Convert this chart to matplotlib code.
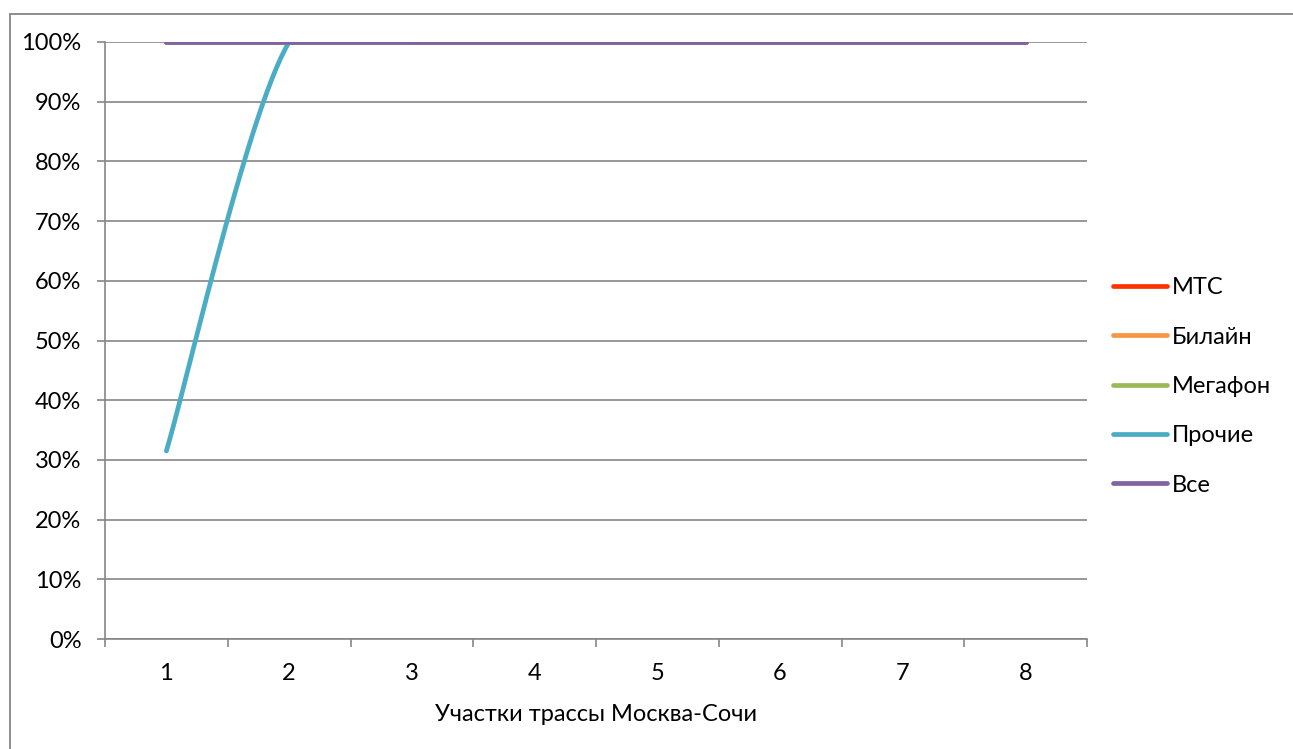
import numpy as np
import matplotlib
matplotlib.use("Agg")
import matplotlib.pyplot as plt
from matplotlib.patches import Rectangle
from matplotlib.ticker import PercentFormatter

plt.rcParams['font.family'] = ['Lato', 'DejaVu Sans']

# ---- data ----
sections = [1, 2, 3, 4, 5, 6, 7, 8]
series_names = ["МТС", "Билайн", "Мегафон", "Прочие", "Все"]
mts = [100, 100, 100, 100, 100, 100, 100, 100]
beeline = [100, 100, 100, 100, 100, 100, 100, 100]
megafon = [100, 100, 100, 100, 100, 100, 100, 100]
others = [31.5, 100, 100, 100, 100, 100, 100, 100]
all_ops = [100, 100, 100, 100, 100, 100, 100, 100]
colors = ["#FF3300", "#F79646", "#9BBB59", "#4BACC6", "#8064A2"]
x_label = "Участки трассы Москва-Сочи"


def smooth(xs, ys, n=60):
    """Excel-like smoothed line: cubic Bezier segments with Catmull-Rom control points."""
    P = np.column_stack([xs, ys]).astype(float)
    out = [P[0]]
    for i in range(len(P) - 1):
        p0 = P[i - 1] if i > 0 else P[i]
        p1 = P[i]
        p2 = P[i + 1]
        p3 = P[i + 2] if i + 2 < len(P) else P[i + 1]
        c1 = p1 + (p2 - p0) / 6.0
        c2 = p2 - (p3 - p1) / 6.0
        t = np.linspace(0, 1, n)[1:, None]
        seg = ((1 - t) ** 3) * p1 + 3 * ((1 - t) ** 2) * t * c1 + 3 * (1 - t) * t ** 2 * c2 + t ** 3 * p2
        out.extend(seg)
    out = np.array(out)
    return out[:, 0], out[:, 1]


W, H = 1293, 749
fig = plt.figure(figsize=(W / 100, H / 100), dpi=100)
ax = fig.add_axes([105 / W, 1 - 639 / H, (1087 - 105) / W, (639 - 42) / H])

# outer chart frame (partly cut off at right/bottom)
fig.patches.append(Rectangle((10 / W, -0.1), 1.2, 1 - 14 / H + 0.1, transform=fig.transFigure,
                             fill=False, edgecolor="#868686", linewidth=1.3, zorder=0))

for name, vals, col in zip(series_names, [mts, beeline, megafon, others, all_ops], colors):
    sx, sy = smooth(sections, vals)
    ax.plot(sx, sy, color=col, linewidth=3.4, solid_capstyle='round', label=name, zorder=3)

ax.set_xlim(0.5, 8.5)
ax.set_ylim(0, 100)
ax.set_yticks(np.arange(0, 101, 10))
ax.yaxis.set_major_formatter(PercentFormatter(decimals=0))
ax.grid(axis='y', color="#868686", linewidth=1.2)
ax.set_axisbelow(True)

ax.set_xticks(np.arange(0.5, 9.0, 1.0))
ax.set_xticklabels([])
ax.set_xticks(sections, minor=True)
ax.set_xticklabels([str(s) for s in sections], minor=True)

for s in ["top", "right"]:
    ax.spines[s].set_visible(False)
for s in ["left", "bottom"]:
    ax.spines[s].set_color("#868686")
    ax.spines[s].set_linewidth(1.2)

ax.tick_params(axis='y', which='major', length=6, width=1.2, color="#868686",
               labelsize=17, pad=11)
ax.tick_params(axis='x', which='major', length=6, width=1.2, color="#868686")
ax.tick_params(axis='x', which='minor', length=0, labelsize=17, pad=17)

ax.set_xlabel(x_label, fontsize=17, labelpad=15)

leg = fig.legend(loc='center left', bbox_to_anchor=(1113 / W, 1 - 386.5 / H),
                 frameon=False, fontsize=17, handlelength=2.3, handletextpad=0.2,
                 labelspacing=1.2, borderpad=0, borderaxespad=0)

fig.savefig("out.png", dpi=100)
